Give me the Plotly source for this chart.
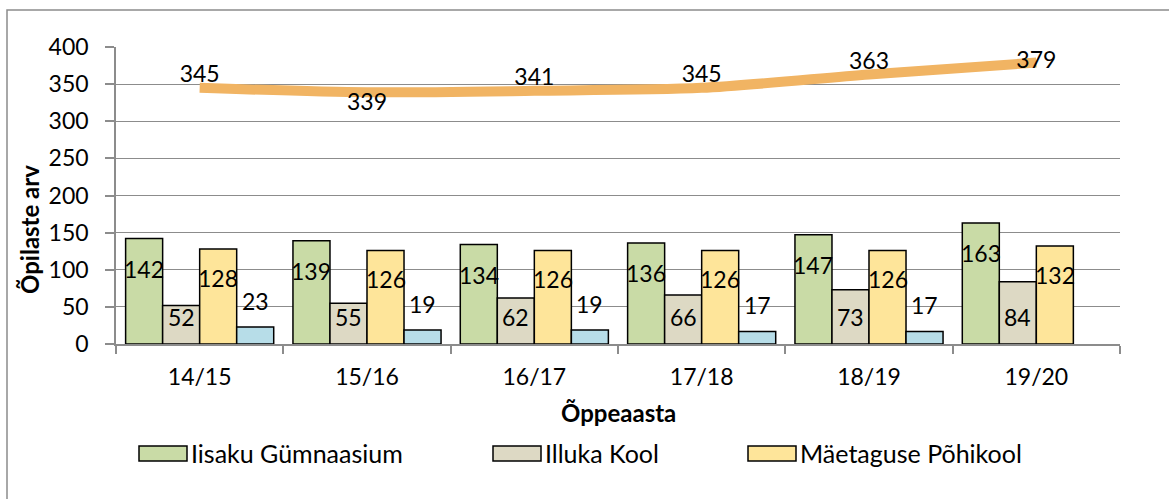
import plotly.graph_objects as go

# Student counts per school year
years = ["14/15", "15/16", "16/17", "17/18", "18/19", "19/20"]
iisaku = [142, 139, 134, 136, 147, 163]
illuka = [52, 55, 62, 66, 73, 84]
maetaguse = [128, 126, 126, 126, 126, 132]
fourth_school = [23, 19, 19, 17, 17, None]
total = [345, 339, 341, 345, 363, 379]

names = ["Iisaku Gümnaasium", "Illuka Kool", "Mäetaguse Põhikool", "4. kool"]
colors = ["#C9DBA6", "#DDD9C4", "#FEE59A", "#B7DDE8"]
LINE_COLOR = "#F1B463"
GRID = "#8C8C8C"
FONT = "Lato, 'Open Sans', sans-serif"
NUM_SIZE = 23

# Figure / plot-area geometry in pixels
W, H = 1169, 499
PL, PR, PT, PB = 116, 1120, 47, 344
BARGAP = 0.115


def px_x(x):
    return (x - PL) / (PR - PL)


def px_y(y):
    return (PB - y) / (PB - PT)


fig = go.Figure()

series = [iisaku, illuka, maetaguse, fourth_school]
for name, vals, col in zip(names, series, colors):
    fig.add_trace(go.Bar(
        x=years,
        y=vals,
        name=name,
        marker=dict(color=col, line=dict(color="black", width=1.5)),
        showlegend=False,
    ))

# Total line (smoothed)
fig.add_trace(go.Scatter(
    x=years,
    y=total,
    mode="lines+text",
    line=dict(color=LINE_COLOR, width=10, shape="spline", smoothing=0.8),
    text=[str(v) for v in total],
    textposition=["top center", "bottom center", "top center",
                  "top center", "top center", "middle center"],
    textfont=dict(size=NUM_SIZE, color="black", family=FONT),
    showlegend=False,
))

# Bar value labels, placed over each bar of the group
bar_w = (1 - BARGAP) / len(series)
shifts = [("top", -30), ("base", 27), ("top", -29), ("top", 26)]
annotations = []
for j, (vals, (ref, dy)) in enumerate(zip(series, shifts)):
    for i, v in enumerate(vals):
        if v is None:
            continue
        annotations.append(dict(
            x=i + (j - (len(series) - 1) / 2) * bar_w,
            y=v if ref == "top" else 0,
            xref="x", yref="y",
            text=str(v), showarrow=False, yshift=dy,
            font=dict(size=NUM_SIZE, color="black", family=FONT),
        ))

# Axis titles
annotations.append(dict(
    x=px_x(618), y=px_y(412), xref="paper", yref="paper",
    xanchor="center", yanchor="middle",
    text="<b>Õppeaasta</b>", showarrow=False,
    font=dict(size=24, color="black", family=FONT),
))
annotations.append(dict(
    x=px_x(29), y=px_y(230), xref="paper", yref="paper",
    xanchor="center", yanchor="middle",
    text="<b>Õpilaste arv</b>", showarrow=False, textangle=-90,
    font=dict(size=24, color="black", family=FONT),
))

# Custom legend (wide swatches like the original)
shapes = []
legend_x = [139, 493, 748]
for lx, name, col in zip(legend_x, names[:3], colors[:3]):
    shapes.append(dict(
        type="rect", xref="paper", yref="paper",
        x0=px_x(lx), x1=px_x(lx + 48), y0=px_y(461), y1=px_y(446),
        fillcolor=col, line=dict(color="black", width=1.5),
    ))
    annotations.append(dict(
        x=px_x(lx + 50), y=px_y(453), xref="paper", yref="paper",
        xanchor="left", yanchor="middle", text=name, showarrow=False,
        font=dict(size=25, color="black", family=FONT),
    ))

# Chart border
shapes.append(dict(
    type="rect", xref="paper", yref="paper",
    x0=px_x(7), x1=px_x(W + 20), y0=px_y(H + 20), y1=px_y(10),
    line=dict(color=GRID, width=1.5), fillcolor="rgba(0,0,0,0)",
    layer="below",
))

fig.update_layout(
    width=W, height=H,
    barmode="group", bargap=BARGAP, bargroupgap=0,
    paper_bgcolor="white", plot_bgcolor="white",
    margin=dict(l=PL, r=W - PR, t=PT, b=H - PB),
    font=dict(family=FONT, size=NUM_SIZE, color="black"),
    annotations=annotations,
    shapes=shapes,
    showlegend=False,
)

fig.update_xaxes(
    showline=True, linecolor=GRID, linewidth=1.5,
    ticks="outside", ticklen=8, tickcolor=GRID, tickwidth=1.5,
    tickson="boundaries", showgrid=False,
    tickfont=dict(size=NUM_SIZE, family=FONT), ticklabelstandoff=12,
)
fig.update_yaxes(
    range=[0, 400], dtick=50,
    showline=True, linecolor=GRID, linewidth=1.5,
    ticks="outside", ticklen=9, tickcolor=GRID, tickwidth=1.5,
    gridcolor=GRID, gridwidth=1.3, zeroline=False,
    tickfont=dict(size=NUM_SIZE, family=FONT), ticklabelstandoff=12,
)

# Remove the page's default body margin so the figure sits at (0, 0)
fig.write_html(
    "out.html",
    config={"displayModeBar": False},
    post_script="document.body.style.margin='0';",
)
